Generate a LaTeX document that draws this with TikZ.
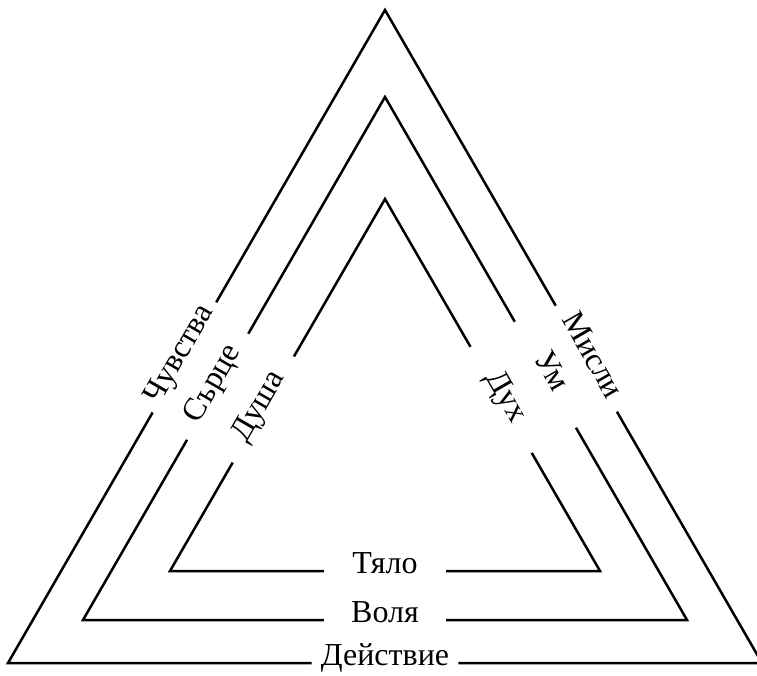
\documentclass[tikz,border=0pt]{standalone}
\usepackage{fontspec}
\setmainfont{Liberation Serif}
\usetikzlibrary{calc}

\begin{document}
\begin{tikzpicture}[
	x=1pt,
	y=1pt,
	side/.style={
		line width=2.5pt,
		line join=miter,
	},
	sidelabel/.style={
		shape=rectangle,
		anchor=mid,
		inner xsep=9pt,
		minimum width=122pt,
		font=\fontsize{32}{38}\selectfont,
	},
]
% fix the page size
\useasboundingbox (0,0) rectangle (757,675);

% corners of the three triangles
\coordinate (outer top) at (385,665);
\coordinate (outer left) at (8,12);
\coordinate (outer right) at (762,12);
\coordinate (middle top) at (385,578);
\coordinate (middle left) at (83,55);
\coordinate (middle right) at (687,55);
\coordinate (inner top) at (385,476);
\coordinate (inner left) at (170,104);
\coordinate (inner right) at (600,104);

% labels on the sides
\node (chuvstva) [sidelabel, rotate=60] at ($(outer top)!0.532!(outer left)$) {Чувства};
\node (misli) [sidelabel, rotate=-60] at ($(outer top)!0.534!(outer right)$) {Мисли};
\node (deistvie) [sidelabel] at ($(outer left)!0.5!(outer right)$) {Действие};
\node (sartse) [sidelabel, rotate=60] at ($(middle top)!0.554!(middle left)$) {Сърце};
\node (um) [sidelabel, rotate=-60] at ($(middle top)!0.531!(middle right)$) {Ум};
\node (volya) [sidelabel] at ($(middle left)!0.5!(middle right)$) {Воля};
\node (dusha) [sidelabel, rotate=60] at ($(inner top)!0.566!(inner left)$) {Душа};
\node (duh) [sidelabel, rotate=-60] at ($(inner top)!0.540!(inner right)$) {Дух};
\node (tyalo) [sidelabel] at ($(inner left)!0.5!(inner right)$) {Тяло};

% outer triangle
\draw[side] (chuvstva.mid east) -- (outer top) -- (misli.mid west);
\draw[side] (misli.mid east) -- (outer right) -- (deistvie.mid east);
\draw[side] (deistvie.mid west) -- (outer left) -- (chuvstva.mid west);

% middle triangle
\draw[side] (sartse.mid east) -- (middle top) -- (um.mid west);
\draw[side] (um.mid east) -- (middle right) -- (volya.mid east);
\draw[side] (volya.mid west) -- (middle left) -- (sartse.mid west);

% inner triangle
\draw[side] (dusha.mid east) -- (inner top) -- (duh.mid west);
\draw[side] (duh.mid east) -- (inner right) -- (tyalo.mid east);
\draw[side] (tyalo.mid west) -- (inner left) -- (dusha.mid west);
\end{tikzpicture}
\end{document}
